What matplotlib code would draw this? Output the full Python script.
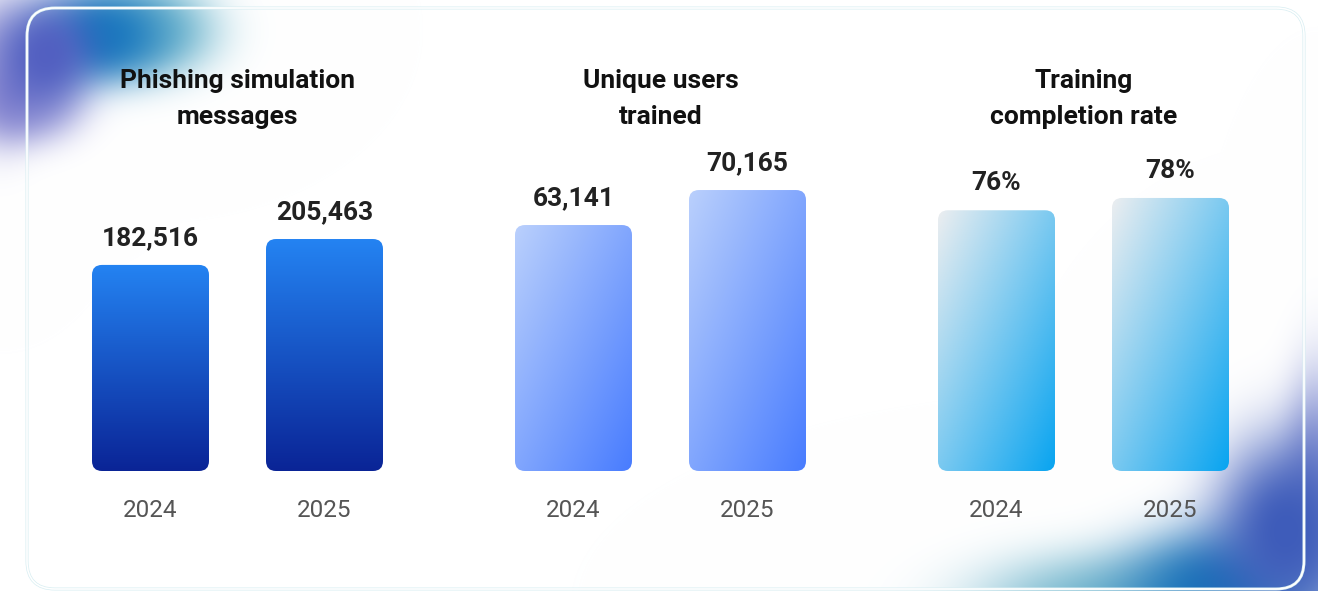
import numpy as np
import matplotlib
matplotlib.use("Agg")
import matplotlib.pyplot as plt
from matplotlib.patches import FancyBboxPatch

plt.rcParams['font.family'] = ['Roboto', 'DejaVu Sans']

W, H = 1318, 591
PX = 72 / 100  # points per pixel at dpi 100

# data
years = ["2024", "2025"]
titles = [["Phishing simulation", "messages"],
          ["Unique users", "trained"],
          ["Training", "completion rate"]]
phishing_messages = [182516, 205463]
users_trained = [63141, 70165]
completion_rate = [76, 78]

panel_values = [phishing_messages, users_trained, completion_rate]
panel_fmt = ["{:,}", "{:,}", "{}%"]

# layout / style
panel_left = [63.5, 486.5, 909.5]       # px, left edge of each panel axes
panel_ylim = [(0, 284300), (13770, 78200), (33.6, 85.8)]
panel_colors = [((36, 131, 242), (10, 36, 150), False),
                ((186, 208, 252), (72, 124, 255), True),
                ((236, 238, 240), (8, 164, 240), True)]
AX_W, AX_BOT, AX_TOP = 348, 471, 150
BAR_W = 117 / 174


def gradient(c0, c1, diagonal, n=200):
    u = np.linspace(0, 1, n)
    U, V = np.meshgrid(u, u)
    t = (U + V) / 2 if diagonal else V
    c0 = np.array(c0) / 255
    c1 = np.array(c1) / 255
    return c0 + (c1 - c0) * t[..., None]


fig = plt.figure(figsize=(W / 100, H / 100), dpi=100)

# background glows: (cx, cy, sx, sy, alpha, colour)
yy, xx = np.mgrid[0:H, 0:W]
bg_img = np.ones((H, W, 3))
blobs = [
    (0, 70, 28, 50, 0.7, (130, 128, 205)),
    (150, 30, 48, 34, 0.85, (90, 172, 198)),
    (25, 105, 38, 28, 0.6, (110, 110, 200)),
    (100, 35, 45, 34, 1.0, (25, 120, 190)),
    (45, 55, 35, 40, 0.95, (80, 92, 192)),
    (1318, 480, 25, 80, 0.7, (105, 118, 200)),
    (1110, 605, 95, 38, 0.85, (95, 172, 198)),
    (1215, 590, 65, 45, 1.0, (25, 115, 185)),
    (1285, 530, 52, 68, 1.0, (62, 92, 186)),
]
for cx, cy, sx, sy, a, col in blobs:
    r2 = ((xx - cx) / sx) ** 2 + ((yy - cy) / sy) ** 2
    m = a * np.exp(-(r2 / 2) ** 1.3)
    bg_img = bg_img * (1 - m[..., None]) + np.array(col) / 255 * m[..., None]

bg = fig.add_axes([0, 0, 1, 1])
bg.imshow(bg_img, extent=(0, W, H, 0), aspect='auto', interpolation='bilinear')
bg.add_patch(FancyBboxPatch((27, 8), 1277, 581, boxstyle="round,pad=0,rounding_size=28",
                            fc='none', ec='#d8eef2', lw=3.0 * PX))
bg.add_patch(FancyBboxPatch((27, 8), 1277, 581, boxstyle="round,pad=0,rounding_size=28",
                            fc='none', ec='white', lw=1.6 * PX))
bg.set_xlim(0, W)
bg.set_ylim(H, 0)
bg.axis('off')

for p in range(3):
    left = panel_left[p]
    y0, y1 = panel_ylim[p]
    ax = fig.add_axes([left / W, (H - AX_BOT) / H, AX_W / W, (AX_BOT - AX_TOP) / H])
    ax.patch.set_alpha(0)
    c0, c1, diag = panel_colors[p]
    ypp = (y1 - y0) / (AX_BOT - AX_TOP)
    xpp = 2 / AX_W
    for i, v in enumerate(panel_values[p]):
        x0 = i - BAR_W / 2
        box = FancyBboxPatch((x0, y0), BAR_W, v - y0,
                             boxstyle="round,pad=0,rounding_size=%f" % (10 * xpp),
                             mutation_aspect=ypp / xpp, fc='none', ec='none')
        ax.add_patch(box)
        im = ax.imshow(gradient(c0, c1, diag), extent=(x0, x0 + BAR_W, y0, v),
                       origin='upper', aspect='auto', interpolation='bilinear')
        im.set_clip_path(box)
        ax.annotate(panel_fmt[p].format(v), xy=(i, v), xytext=(0, 20 * PX),
                    textcoords='offset points', ha='center', va='baseline',
                    fontsize=19, fontweight='bold', color='#222222')
        ax.annotate(years[i], xy=(i, y0), xytext=(0, -46 * PX),
                    textcoords='offset points', ha='center', va='baseline',
                    fontsize=17.5, color='#555555')
    ax.set_xlim(-0.5, 1.5)
    ax.set_ylim(y0, y1)
    ax.axis('off')

    cx = (left + AX_W / 2) / W
    fig.text(cx, 1 - 88 / H, titles[p][0], ha='center', va='baseline',
             fontsize=19, fontweight='bold', color='#111111')
    fig.text(cx, 1 - 124 / H, titles[p][1], ha='center', va='baseline',
             fontsize=19, fontweight='bold', color='#111111')

fig.savefig("out.png", dpi=100)
